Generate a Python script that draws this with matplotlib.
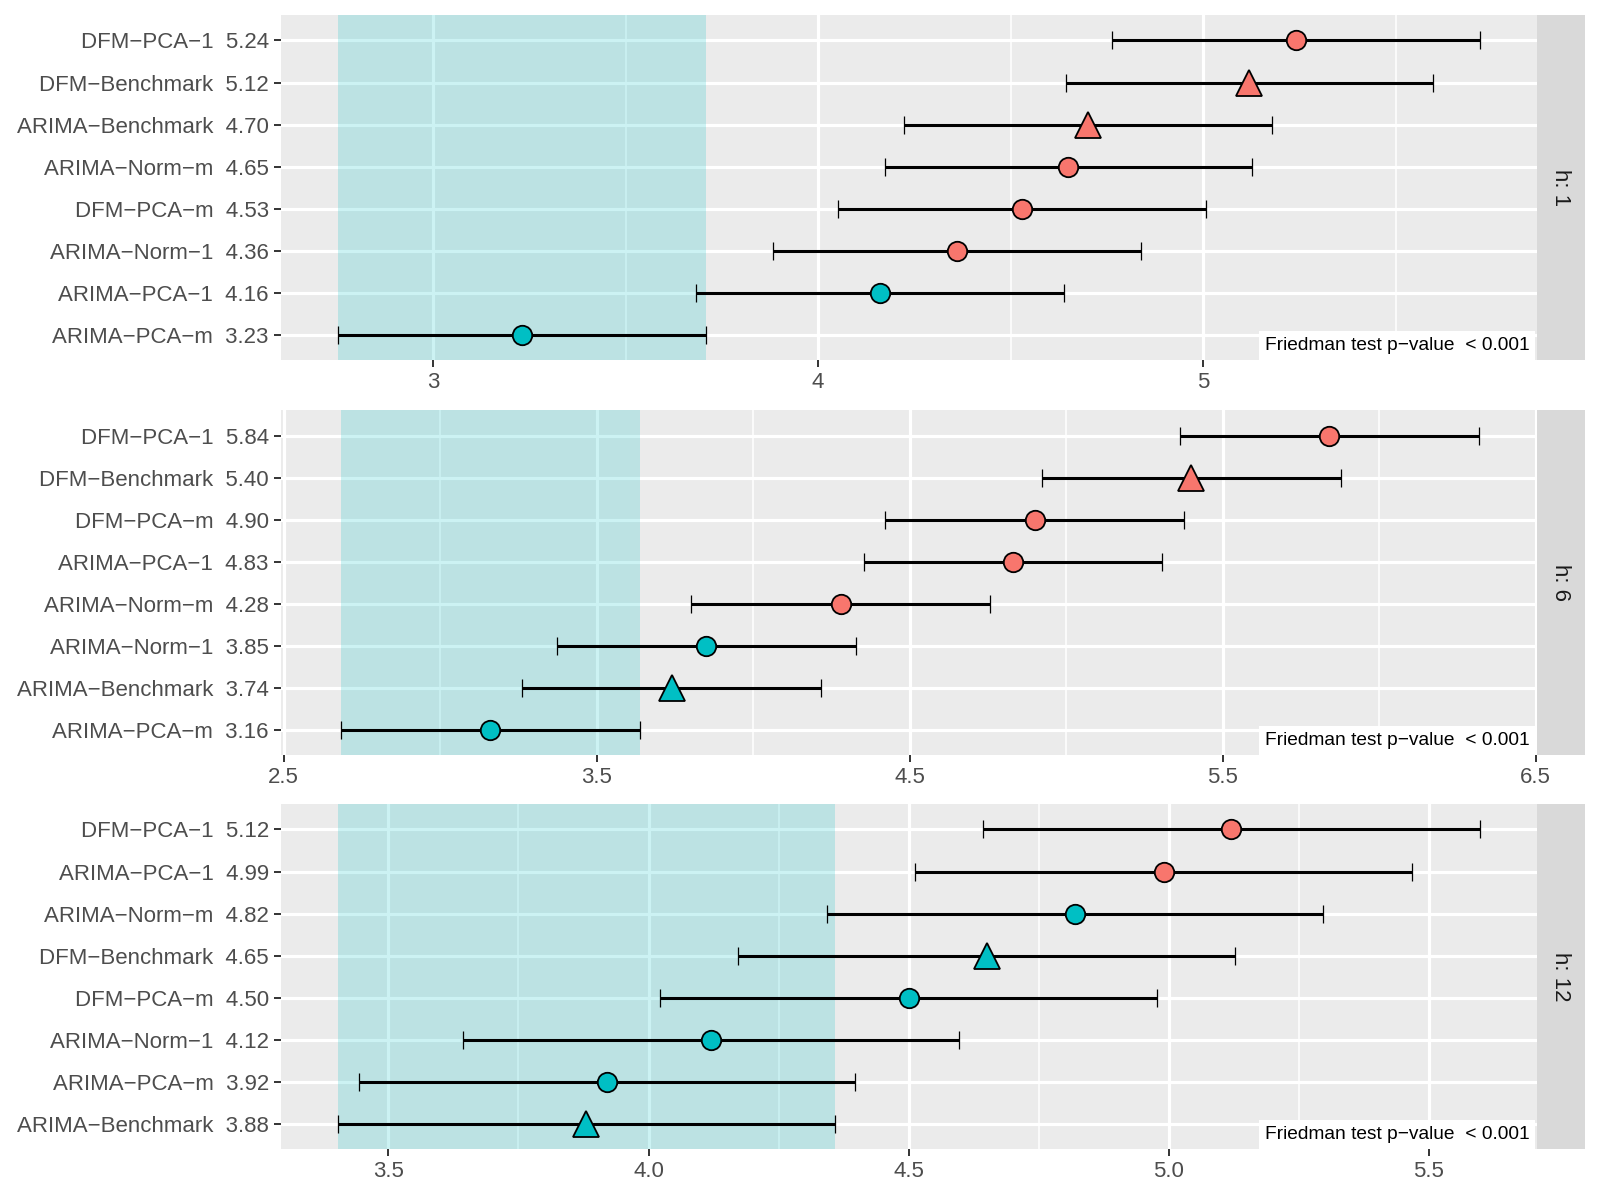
import matplotlib
matplotlib.use("Agg")
import matplotlib.pyplot as plt

plt.rcParams["font.family"] = ["Liberation Sans", "DejaVu Sans"]

# mean ranks per horizon, top row first
h1_names = ["DFM−PCA−1", "DFM−Benchmark", "ARIMA−Benchmark", "ARIMA−Norm−m",
            "DFM−PCA−m", "ARIMA−Norm−1", "ARIMA−PCA−1", "ARIMA−PCA−m"]
h1_ranks = [5.24, 5.12, 4.70, 4.65, 4.53, 4.36, 4.16, 3.23]

h6_names = ["DFM−PCA−1", "DFM−Benchmark", "DFM−PCA−m", "ARIMA−PCA−1",
            "ARIMA−Norm−m", "ARIMA−Norm−1", "ARIMA−Benchmark", "ARIMA−PCA−m"]
h6_ranks = [5.84, 5.40, 4.90, 4.83, 4.28, 3.85, 3.74, 3.16]

h12_names = ["DFM−PCA−1", "ARIMA−PCA−1", "ARIMA−Norm−m", "DFM−Benchmark",
             "DFM−PCA−m", "ARIMA−Norm−1", "ARIMA−PCA−m", "ARIMA−Benchmark"]
h12_ranks = [5.12, 4.99, 4.82, 4.65, 4.50, 4.12, 3.92, 3.88]

# critical difference (half width of the intervals)
cd = 0.4775

h1_ticks = [3, 4, 5]
h1_minor = [3.5, 4.5, 5.5]
h1_ticklabels = ["3", "4", "5"]
h6_ticks = [2.5, 3.5, 4.5, 5.5, 6.5]
h6_minor = [3, 4, 5, 6]
h6_ticklabels = ["2.5", "3.5", "4.5", "5.5", "6.5"]
h12_ticks = [3.5, 4.0, 4.5, 5.0, 5.5]
h12_minor = [3.75, 4.25, 4.75, 5.25]
h12_ticklabels = ["3.5", "4.0", "4.5", "5.0", "5.5"]

strips = ["h: 1", "h: 6", "h: 12"]
pvalue_text = "Friedman test p−value  < 0.001"

RED = "#F8766D"
TEAL = "#00BFC4"

panels = [
    (h1_names, h1_ranks, h1_ticks, h1_minor, h1_ticklabels),
    (h6_names, h6_ranks, h6_ticks, h6_minor, h6_ticklabels),
    (h12_names, h12_ranks, h12_ticks, h12_minor, h12_ticklabels),
]

fig = plt.figure(figsize=(16, 12), dpi=100)
bottoms = [0.700, 0.3708, 0.0425]
left, width, height = 0.1754, 0.7850, 0.2873

for i, (names, ranks, ticks, minor, ticklabels) in enumerate(panels):
    ax = fig.add_axes([left, bottoms[i], width, height])
    ax.set_facecolor("#EBEBEB")
    for s in ax.spines.values():
        s.set_visible(False)

    n = len(names)
    ypos = list(range(n - 1, -1, -1))
    best = min(ranks)

    ax.axvspan(best - cd, best + cd, color=TEAL, alpha=0.2, lw=0, zorder=1)
    ax.errorbar(ranks, ypos, xerr=cd, fmt="none", ecolor="black",
                elinewidth=2.2, capsize=6.5, capthick=0.9, zorder=2)
    for name, r, y in zip(names, ranks, ypos):
        col = TEAL if r - best < 2 * cd else RED
        if "Benchmark" in name:
            ax.plot(r, y, marker="^", ms=18.5, mfc=col, mec="black", mew=1.3, zorder=3)
        else:
            ax.plot(r, y, marker="o", ms=14, mfc=col, mec="black", mew=1.3, zorder=3)

    ax.set_yticks(ypos)
    ax.set_yticklabels([f"{nm}  {r:.2f}" for nm, r in zip(names, ranks)])
    ax.set_ylim(-0.6, n - 0.4)

    ax.set_xticks(ticks)
    ax.set_xticklabels(ticklabels)
    ax.set_xticks(minor, minor=True)
    lo = best - cd
    hi = max(ranks) + cd
    pad = 0.05 * (hi - lo)
    # keep edge breaks visible, as ggplot does
    ax.set_xlim(min(lo - pad, ticks[0] - 0.01), max(hi + pad, ticks[-1] + 0.003))

    ax.set_axisbelow(True)
    ax.grid(which="major", color="white", lw=2.3)
    ax.grid(which="minor", axis="x", color="white", lw=1.1)
    ax.tick_params(which="major", length=5, width=1.4, color="#333333",
                   labelsize=16, labelcolor="#4D4D4D", pad=3.5)
    ax.tick_params(which="minor", length=0)

    ax.annotate(pvalue_text, xy=(1, 0), xycoords="axes fraction",
                xytext=(-5, 4.5), textcoords="offset points",
                ha="right", va="bottom", fontsize=13.8, color="black",
                bbox=dict(boxstyle="square,pad=0.3", fc="white", ec="none"),
                zorder=5)

    sax = fig.add_axes([left + width, bottoms[i], 0.0302, height])
    sax.set_facecolor("#D9D9D9")
    sax.set_xticks([])
    sax.set_yticks([])
    for s in sax.spines.values():
        s.set_visible(False)
    sax.text(0.5, 0.5, strips[i], rotation=-90, ha="center", va="center",
             fontsize=16, color="#1A1A1A", transform=sax.transAxes)

fig.savefig("out.png", dpi=100)
